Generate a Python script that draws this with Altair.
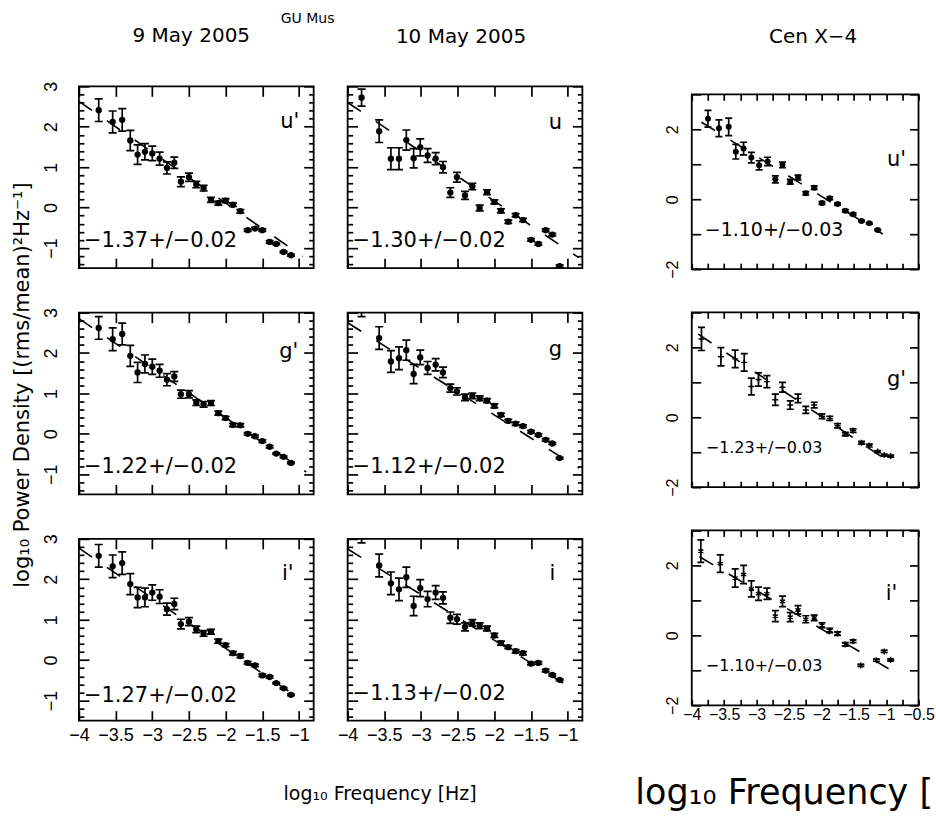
import altair as alt
import pandas as pd

# ---------------- data ----------------
# GU Mus, 9 May 2005
gu9_freq = [-3.73, -3.54, -3.41, -3.30, -3.20, -3.10, -3.00, -2.90, -2.80, -2.70, -2.61, -2.50, -2.40,
            -2.30, -2.20, -2.10, -2.00, -1.90, -1.80, -1.70, -1.60, -1.50, -1.40, -1.31, -1.21, -1.11]
gu9_u_pow = [2.41, 2.12, 2.17, 1.66, 1.31, 1.38, 1.34, 1.21, 0.98, 1.11, 0.64, 0.75, 0.57,
             0.48, 0.19, 0.11, 0.17, 0.07, -0.09, -0.56, -0.52, -0.56, -0.85, -0.90, -1.10, -1.18]
gu9_u_err = [0.28, 0.27, 0.28, 0.25, 0.24, 0.20, 0.18, 0.16, 0.15, 0.14, 0.12, 0.10, 0.08,
             0.07, 0.06, 0.05, 0.05, 0.04, 0.04, 0.03, 0.03, 0.03, 0.03, 0.02, 0.02, 0.02]
gu9_g_pow = [2.62, 2.34, 2.47, 1.93, 1.52, 1.73, 1.66, 1.56, 1.34, 1.42, 0.98, 0.98, 0.77,
             0.73, 0.76, 0.51, 0.39, 0.22, 0.21, 0.00, -0.06, -0.18, -0.32, -0.49, -0.57, -0.72]
gu9_g_err = [0.28, 0.28, 0.27, 0.26, 0.25, 0.22, 0.19, 0.16, 0.15, 0.12, 0.10, 0.09, 0.07,
             0.07, 0.06, 0.05, 0.04, 0.04, 0.04, 0.03, 0.03, 0.03, 0.03, 0.02, 0.02, 0.02]
gu9_i_pow = [2.58, 2.32, 2.40, 1.88, 1.55, 1.55, 1.67, 1.57, 1.26, 1.39, 0.89, 0.95, 0.76,
             0.66, 0.70, 0.47, 0.37, 0.17, 0.10, -0.07, -0.13, -0.38, -0.42, -0.57, -0.70, -0.86]
gu9_i_err = [0.28, 0.28, 0.28, 0.26, 0.25, 0.23, 0.19, 0.17, 0.15, 0.14, 0.12, 0.10, 0.08,
             0.07, 0.06, 0.05, 0.04, 0.04, 0.04, 0.03, 0.03, 0.03, 0.03, 0.02, 0.02, 0.02]

# GU Mus, 10 May 2005
gu10_freq = [-3.81, -3.57, -3.41, -3.30, -3.20, -3.10, -3.01, -2.91, -2.80, -2.70, -2.60, -2.51, -2.40,
             -2.30, -2.20, -2.10, -2.00, -1.91, -1.81, -1.71, -1.61, -1.50, -1.40, -1.30, -1.21, -1.11]
gu10_u_pow = [2.72, 1.89, 1.21, 1.21, 1.67, 1.22, 1.49, 1.29, 1.21, 1.00, 0.37, 0.75, 0.30,
              0.52, -0.01, 0.38, 0.14, -0.08, -0.35, -0.19, -0.31, -0.80, -0.90, -0.56, -0.67, -1.45]
gu10_u_err = [0.21, 0.28, 0.27, 0.27, 0.25, 0.24, 0.21, 0.17, 0.15, 0.14, 0.12, 0.12, 0.10,
              0.08, 0.07, 0.06, 0.05, 0.05, 0.04, 0.04, 0.04, 0.03, 0.03, 0.03, 0.03, 0.03]
gu10_g_pow = [3.18, 2.37, 1.79, 1.87, 2.07, 1.48, 1.89, 1.63, 1.71, 1.52, 1.13, 1.05, 0.90,
              0.94, 0.88, 0.82, 0.69, 0.47, 0.32, 0.25, 0.19, 0.05, -0.03, -0.15, -0.24, -0.60]
gu10_g_err = [0.28, 0.28, 0.27, 0.28, 0.25, 0.24, 0.18, 0.16, 0.15, 0.13, 0.10, 0.09, 0.08,
              0.07, 0.06, 0.05, 0.05, 0.04, 0.04, 0.04, 0.03, 0.03, 0.03, 0.03, 0.02, 0.02]
gu10_i_pow = [3.18, 2.34, 1.90, 1.75, 2.05, 1.34, 1.78, 1.51, 1.67, 1.54, 1.05, 1.01, 0.82,
              0.92, 0.85, 0.78, 0.61, 0.42, 0.32, 0.22, 0.17, -0.09, -0.07, -0.26, -0.37, -0.49]
gu10_i_err = [0.28, 0.28, 0.28, 0.28, 0.25, 0.24, 0.21, 0.19, 0.17, 0.15, 0.14, 0.12, 0.10,
              0.08, 0.07, 0.06, 0.05, 0.05, 0.04, 0.04, 0.04, 0.03, 0.03, 0.03, 0.03, 0.02]

# Cen X-4
cen_u_freq = [-3.75, -3.58, -3.43, -3.32, -3.20, -3.08, -2.96, -2.83, -2.71, -2.60, -2.48,
              -2.36, -2.24, -2.11, -1.99, -1.87, -1.75, -1.63, -1.51, -1.38, -1.26, -1.13]
cen_u_pow = [2.30, 2.03, 2.07, 1.36, 1.45, 1.19, 0.97, 1.08, 0.57, 0.98, 0.50,
             0.62, 0.17, 0.33, -0.11, 0.03, -0.14, -0.33, -0.43, -0.62, -0.69, -0.88]
cen_u_err = [0.24, 0.24, 0.25, 0.21, 0.18, 0.15, 0.13, 0.12, 0.10, 0.08, 0.07,
             0.07, 0.05, 0.05, 0.04, 0.04, 0.03, 0.03, 0.03, 0.02, 0.02, 0.02]
cen_g_freq = [-3.85, -3.55, -3.33, -3.19, -3.08, -2.97, -2.84, -2.71, -2.60, -2.48, -2.36, -2.24,
              -2.11, -1.99, -1.87, -1.75, -1.63, -1.51, -1.38, -1.26, -1.13, -1.03, -0.93]
cen_g_pow = [2.24, 1.73, 1.67, 1.57, 0.88, 1.08, 1.02, 0.50, 0.86, 0.35, 0.54, 0.21,
             0.35, 0.03, -0.03, -0.24, -0.48, -0.38, -0.73, -0.81, -0.98, -1.08, -1.11]
cen_g_err = [0.33, 0.26, 0.25, 0.25, 0.24, 0.19, 0.17, 0.16, 0.14, 0.12, 0.12, 0.10,
             0.08, 0.07, 0.06, 0.06, 0.05, 0.05, 0.04, 0.04, 0.03, 0.03, 0.03]
cen_i_freq = [-3.86, -3.56, -3.33, -3.20, -3.08, -2.97, -2.84, -2.71, -2.60, -2.48, -2.36,
              -2.24, -2.11, -1.99, -1.87, -1.75, -1.63, -1.51, -1.39, -1.15, -1.03, -0.93]
cen_i_pow = [2.41, 2.05, 1.64, 1.74, 1.33, 1.19, 1.19, 0.55, 0.97, 0.52, 0.73,
             0.46, 0.50, 0.29, 0.14, 0.05, -0.26, -0.17, -0.86, -0.71, -0.46, -0.70]
cen_i_err = [0.32, 0.25, 0.26, 0.26, 0.23, 0.19, 0.16, 0.16, 0.15, 0.13, 0.12,
             0.10, 0.08, 0.07, 0.06, 0.05, 0.05, 0.04, 0.03, 0.03, 0.03, 0.03]

# fitted power-law lines (start/end in log10 frequency, log10 power)
fit_gu9_u = ([-4.0, -0.95], [2.63, -1.21])
fit_gu9_g = ([-4.0, -0.90], [2.85, -0.95])
fit_gu9_i = ([-4.0, -0.95], [2.77, -1.01])
fit_gu10_u = ([-4.0, -0.85], [2.60, -1.24])
fit_gu10_g = ([-4.0, -0.85], [2.75, -0.85])
fit_gu10_i = ([-4.0, -0.85], [2.75, -0.81])
fit_cen_u = ([-3.85, -1.05], [2.20, -1.00])
fit_cen_g = ([-3.90, -0.98], [2.38, -1.24])
fit_cen_i = ([-3.88, -0.95], [2.25, -0.97])

slope_gu9 = ["\u22121.37+/\u22120.02", "\u22121.22+/\u22120.02", "\u22121.27+/\u22120.02"]
slope_gu10 = ["\u22121.30+/\u22120.02", "\u22121.12+/\u22120.02", "\u22121.13+/\u22120.02"]
slope_cen = ["\u22121.10+/\u22120.03", "\u22121.23+/\u22120.03", "\u22121.10+/\u22120.03"]
bands_sdss = ["u'", "g'", "i'"]
bands_plain = ["u", "g", "i"]
col_titles = ["9 May 2005", "10 May 2005", "Cen X\u22124"]
object_title = "GU Mus"
x_title = "log\u2081\u2080 Frequency [Hz]"
x_title_cut = "log\u2081\u2080 Frequency ["      # cut at the right edge of the figure
y_title = "log\u2081\u2080 Power Density [(rms/mean)\u00b2Hz\u207b\u00b9]"

gu_x_ticks = [-4, -3.5, -3, -2.5, -2, -1.5, -1]
gu_y_major = [-1, 0, 1, 2, 3]
gu_y_minor = [-1.4, -1.2, -0.8, -0.6, -0.4, -0.2, 0.2, 0.4, 0.6, 0.8, 1.2, 1.4, 1.6, 1.8,
              2.2, 2.4, 2.6, 2.8]
cen_x_ticks = [-4, -3.75, -3.5, -3.25, -3, -2.75, -2.5, -2.25, -2, -1.75, -1.5, -1.25, -1, -0.75, -0.5]
cen_y_ticks = [-2, -1, 0, 1, 2, 3]

# ---------------- styling ----------------
TICK_FONT = "Liberation Sans"
TEXT_FONT = "DejaVu Sans"
LW = 1.7
PLUS = "M-1,0L1,0M0,-1L0,1"
STAR = "M0,-1L0,1M-0.87,-0.5L0.87,0.5M-0.87,0.5L0.87,-0.5"

GU = dict(xdom=[-4.0, -0.8], ydom=[-1.5, 3.0], width=235, height=182,
          xticks=gu_x_ticks, xlen=10, ymaj=gu_y_major, ylen=10, ymin=gu_y_minor, yminlen=5,
          lsize=18, xpad=20, ypad=22, xexpr=None, yexpr=None, cap=8, msize=40)
CEN = dict(xdom=[-4.0, -0.5], ydom=[-2.0, 3.0], width=227, height=175,
           xticks=cen_x_ticks, xlen=6, ymaj=cen_y_ticks, ylen=9, ymin=None, yminlen=5,
           lsize=16, xpad=14, ypad=14,
           xexpr="abs(datum.value*2 - round(datum.value*2)) < 0.001 ? datum.label : ''",
           yexpr="datum.value % 2 == 0 ? datum.label : ''", cap=7, msize=36)


def inward(n):
    return alt.ExprRef(expr=str(-n))


def make_axis(orient, values, length, cfg, labels=False, expr=None, title=None, title_opts=None):
    kw = dict(orient=orient, values=values, tickSize=inward(length), tickWidth=LW,
              tickColor="black", domain=False, grid=False, labels=labels, title=title)
    if labels:
        vertical = orient in ("left", "right")
        pad = cfg["ypad"] if vertical else cfg["xpad"]
        kw.update(labelFont=TICK_FONT, labelFontSize=cfg["lsize"], labelColor="black",
                  labelPadding=pad + length, labelOverlap=False, labelFlush=False,
                  labelBound=False, format=".2~f", labelBaseline="alphabetic", labelAlign="center")
        if vertical:
            kw.update(labelAngle=270)
        if expr:
            kw.update(labelExpr=expr)
    if title_opts:
        kw.update(title_opts)
    return alt.Axis(**kw)


def panel(freq, pw, err, fit, band, slope, cfg, *, show_x, show_y, marker="circle",
          band_pos=(210, 37), slope_pos=(5, 155), slope_size=21, title=None,
          x_axis_title=None, y_axis_title=None):
    df = pd.DataFrame({"f": freq, "p": pw,
                       "lo": [a - b for a, b in zip(pw, err)],
                       "hi": [a + b for a, b in zip(pw, err)]})
    fdf = pd.DataFrame({"f": fit[0], "p": fit[1]})
    xsc = alt.Scale(domain=cfg["xdom"], nice=False, zero=False)
    ysc = alt.Scale(domain=cfg["ydom"], nice=False, zero=False)

    def X(field, axis=None):
        return alt.X(field, type="quantitative", scale=xsc, axis=axis)

    def Y(field, axis=None):
        return alt.Y(field, type="quantitative", scale=ysc, axis=axis)

    base = alt.Chart(df)
    bars = base.mark_rule(color="black", strokeWidth=LW, clip=True).encode(
        x=X("f"), y=Y("lo"), y2=alt.Y2("hi"))
    cap_lo = base.mark_tick(color="black", orient="horizontal", size=cfg["cap"], thickness=LW,
                            clip=True, opacity=1).encode(x=X("f"), y=Y("lo"))
    cap_hi = base.mark_tick(color="black", orient="horizontal", size=cfg["cap"], thickness=LW,
                            clip=True, opacity=1).encode(x=X("f"), y=Y("hi"))
    line = alt.Chart(fdf).mark_line(color="black", strokeWidth=1.6, strokeDash=[16, 18],
                                    clip=True).encode(x=X("f"), y=Y("p"))

    x_bottom = make_axis("bottom", cfg["xticks"], cfg["xlen"], cfg, labels=show_x, expr=cfg["xexpr"],
                         title=x_axis_title[0] if x_axis_title else None,
                         title_opts=x_axis_title[1] if x_axis_title else None)
    y_left = make_axis("left", cfg["ymaj"], cfg["ylen"], cfg, labels=show_y, expr=cfg["yexpr"],
                       title=y_axis_title[0] if y_axis_title else None,
                       title_opts=y_axis_title[1] if y_axis_title else None)
    if marker == "circle":
        pts = base.mark_point(filled=True, shape="circle", size=cfg["msize"], color="black",
                              opacity=1, clip=True)
    else:
        pts = base.mark_point(filled=False, shape=marker, size=cfg["msize"], color="black",
                              strokeWidth=1.4, opacity=1, clip=True)
    pts = pts.encode(x=X("f", x_bottom), y=Y("p", y_left))

    ax_tr = base.mark_point(opacity=0, clip=True).encode(
        x=X("f", make_axis("top", cfg["xticks"], cfg["xlen"], cfg)),
        y=Y("p", make_axis("right", cfg["ymaj"], cfg["ylen"], cfg)))
    layers = [bars, cap_lo, cap_hi, line, pts, ax_tr]
    if cfg["ymin"]:
        layers.append(base.mark_point(opacity=0, clip=True).encode(
            x=X("f"), y=Y("p", make_axis("left", cfg["ymin"], cfg["yminlen"], cfg))))
        layers.append(base.mark_point(opacity=0, clip=True).encode(
            x=X("f"), y=Y("p", make_axis("right", cfg["ymin"], cfg["yminlen"], cfg))))

    tb = alt.Chart(pd.DataFrame({"t": [band]})).mark_text(
        font=TEXT_FONT, fontSize=21, align="center", baseline="middle", color="black").encode(
        x=alt.value(band_pos[0]), y=alt.value(band_pos[1]), text="t:N")
    ts = alt.Chart(pd.DataFrame({"t": [slope]})).mark_text(
        font=TEXT_FONT, fontSize=slope_size, align="left", baseline="middle", color="black").encode(
        x=alt.value(slope_pos[0]), y=alt.value(slope_pos[1]), text="t:N")
    layers += [tb, ts]

    props = dict(width=cfg["width"], height=cfg["height"])
    if title is not None:
        props["title"] = title
    return alt.layer(*layers).resolve_axis(x="independent", y="independent").properties(**props)


def col_title(text, offset, dx):
    return alt.TitleParams(text=text, font=TEXT_FONT, fontSize=20, fontWeight="normal",
                           color="black", anchor="middle", frame="group", offset=offset, dx=dx)


ytitle_opts = dict(titleFont=TEXT_FONT, titleFontSize=21, titleFontWeight="normal",
                   titleColor="black", titleAngle=270, titleX=-50, titleY=72,
                   titleAlign="center", titleBaseline="alphabetic")
xtitle_small = dict(titleFont=TEXT_FONT, titleFontSize=19, titleFontWeight="normal",
                    titleColor="black", titleX=301, titleY=79, titleAlign="center",
                    titleBaseline="alphabetic", titleAngle=0)
xtitle_big = dict(titleFont=TEXT_FONT, titleFontSize=35, titleFontWeight="normal",
                  titleColor="black", titleX=-57, titleY=98, titleAlign="left",
                  titleBaseline="alphabetic", titleAngle=0)

# column 1: GU Mus 9 May
c1 = [
    panel(gu9_freq, gu9_u_pow, gu9_u_err, fit_gu9_u, bands_sdss[0], slope_gu9[0], GU,
          show_x=False, show_y=True, band_pos=(211, 36), title=col_title(col_titles[0], 35, -5)),
    panel(gu9_freq, gu9_g_pow, gu9_g_err, fit_gu9_g, bands_sdss[1], slope_gu9[1], GU,
          show_x=False, show_y=True, band_pos=(210, 39), y_axis_title=(y_title, ytitle_opts)),
    panel(gu9_freq, gu9_i_pow, gu9_i_err, fit_gu9_i, bands_sdss[2], slope_gu9[2], GU,
          show_x=True, show_y=True, band_pos=(209, 35), slope_pos=(5, 157),
          x_axis_title=(x_title, xtitle_small)),
]
# column 2: GU Mus 10 May
c2 = [
    panel(gu10_freq, gu10_u_pow, gu10_u_err, fit_gu10_u, bands_plain[0], slope_gu10[0], GU,
          show_x=False, show_y=False, band_pos=(208, 37), title=col_title(col_titles[1], 39, -4)),
    panel(gu10_freq, gu10_g_pow, gu10_g_err, fit_gu10_g, bands_plain[1], slope_gu10[1], GU,
          show_x=False, show_y=False, band_pos=(208, 37)),
    panel(gu10_freq, gu10_i_pow, gu10_i_err, fit_gu10_i, bands_plain[2], slope_gu10[2], GU,
          show_x=True, show_y=False, band_pos=(205, 35)),
]
# column 3: Cen X-4
c3 = [
    panel(cen_u_freq, cen_u_pow, cen_u_err, fit_cen_u, bands_sdss[0], slope_cen[0], CEN,
          show_x=False, show_y=True, band_pos=(205, 66), slope_pos=(13, 136), slope_size=19),
    panel(cen_g_freq, cen_g_pow, cen_g_err, fit_cen_g, bands_sdss[1], slope_cen[1], CEN,
          show_x=False, show_y=True, marker=PLUS, band_pos=(205, 68), slope_pos=(14, 136),
          slope_size=16),
    panel(cen_i_freq, cen_i_pow, cen_i_err, fit_cen_i, bands_sdss[2], slope_cen[2], CEN,
          show_x=True, show_y=True, marker=STAR, band_pos=(200, 64), slope_pos=(14, 136),
          slope_size=16, x_axis_title=(x_title_cut, xtitle_big)),
]

# thin invisible header strip carrying the "Cen X-4" heading (drops column 3 a little lower)
header3 = alt.Chart(pd.DataFrame({"z": [0]})).mark_point(opacity=0, size=1).encode(
    x=alt.X("z:Q", axis=None), y=alt.Y("z:Q", axis=None)).properties(
    width=CEN["width"], height=1, view=alt.ViewBackground(strokeOpacity=0),
    title=col_title(col_titles[2], 39, 8))

gu_grid = alt.concat(c1[0], c2[0], c1[1], c2[1], c1[2], c2[2], columns=2,
                     spacing={"row": 44.5, "column": 34}, bounds="flush")
col3_panels = alt.vconcat(*c3, spacing=43.3, bounds="flush")
col3 = alt.vconcat(header3, col3_panels, spacing=5, bounds="full")

chart = alt.hconcat(gu_grid, col3, spacing=49.5, bounds="full").properties(
    title=alt.TitleParams(text=object_title, font=TEXT_FONT, fontSize=14, fontWeight="normal",
                          color="black", anchor="start", dx=270, offset=0),
    padding={"left": 11, "top": 11, "right": 0, "bottom": 0},
    background="white",
).configure_view(stroke="black", strokeWidth=1.8)

chart.save("out.html", embed_options={"renderer": "svg", "actions": False})
